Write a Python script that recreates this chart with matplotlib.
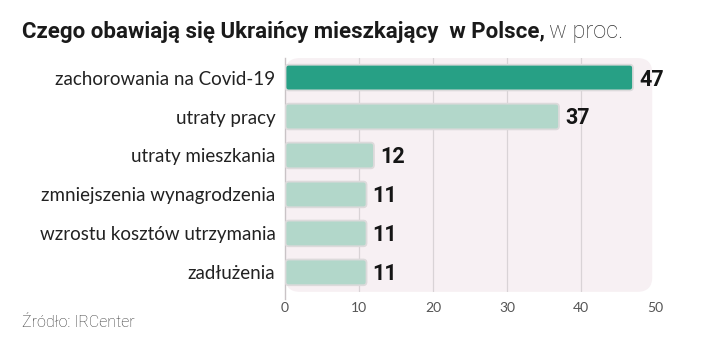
import matplotlib
matplotlib.use("Agg")
import matplotlib.pyplot as plt
from matplotlib.patches import FancyBboxPatch
from matplotlib import font_manager

categories = ["zachorowania na Covid-19", "utraty pracy", "utraty mieszkania",
              "zmniejszenia wynagrodzenia", "wzrostu kosztów utrzymania", "zadłużenia"]
values = [47, 37, 12, 11, 11, 11]
xticks = [0, 10, 20, 30, 40, 50]

names = {f.name for f in font_manager.fontManager.ttflist}
narrow = "Liberation Sans Narrow" if "Liberation Sans Narrow" in names else "Roboto"
labfont = "Lato"

dark = "#27a085"
light = "#b2d7ca"
bg = "#f7f0f3"
grid = "#d9d3d6"

fig = plt.figure(figsize=(7.2, 3.63), dpi=100)
ax = fig.add_axes([0.396, 0.196, 0.514, 0.644])
ax.set_xlim(0, 50)
ax.set_ylim(len(categories) - 0.5, -0.5)

# background panel
ax.add_patch(FancyBboxPatch((0, -0.5), 49.6, len(categories),
                            boxstyle="round,pad=0,rounding_size=2.0",
                            mutation_aspect=0.19, facecolor=bg, edgecolor="none", zorder=0))
for x in xticks[1:-1]:
    ax.axvline(x, color=grid, lw=0.9, zorder=1)
ax.axvline(0, color="#c9c3c6", lw=1.0, zorder=1, ymin=-0.03, clip_on=False)

bars = ax.barh(range(len(categories)), values, height=0.66)
for i, b in enumerate(bars):
    x0, y0 = b.get_x(), b.get_y()
    w, h = b.get_width(), b.get_height()
    b.set_visible(False)
    ax.add_patch(FancyBboxPatch((x0 + 0.05, y0), w - 0.05, h,
                                boxstyle="round,pad=0,rounding_size=0.45",
                                mutation_aspect=0.19,
                                facecolor=dark if i == 0 else light,
                                edgecolor="#dcdadb", lw=1.3, zorder=3))
    ax.text(w + 0.8, i + 0.05, str(values[i]), va="center", ha="left",
            fontsize=15.5, fontweight="bold", family=narrow, color="#151515", zorder=4)

ax.set_yticks(range(len(categories)))
ax.set_yticklabels(categories, fontsize=13.5, family=labfont, color="#222222")
ax.set_xticks(xticks)
ax.set_xticklabels([str(t) for t in xticks], fontsize=10, family=labfont, color="#555555")
ax.tick_params(axis="y", length=0, pad=7)
ax.tick_params(axis="x", length=0, pad=7)
for s in ax.spines.values():
    s.set_visible(False)
ax.patch.set_visible(False)

ty = 1 - 38 / 363
fig.text(0.030, ty, "Czego obawiają się Ukraińcy mieszkający  w Polsce,", fontsize=16,
         fontweight="bold", family=narrow, color="#1a1a1a", va="baseline")
fig.text(0.0, ty, "", fontsize=17, family="Roboto", color="#333333")
fig.canvas.draw()
r = fig.texts[0].get_window_extent()
fig.texts[1].set_position((r.x1 / fig.bbox.width + 0.006, ty))
fig.texts[1].set_text("w proc.")
fig.texts[1].set_fontweight("light")
fig.texts[1].set_va("baseline")

fig.text(0.030, 1 - 327 / 363, "Źródło: IRCenter", fontsize=11.5, family="Roboto", fontweight="light",
         color="#333333", va="baseline")

fig.savefig("out.png", dpi=100)
